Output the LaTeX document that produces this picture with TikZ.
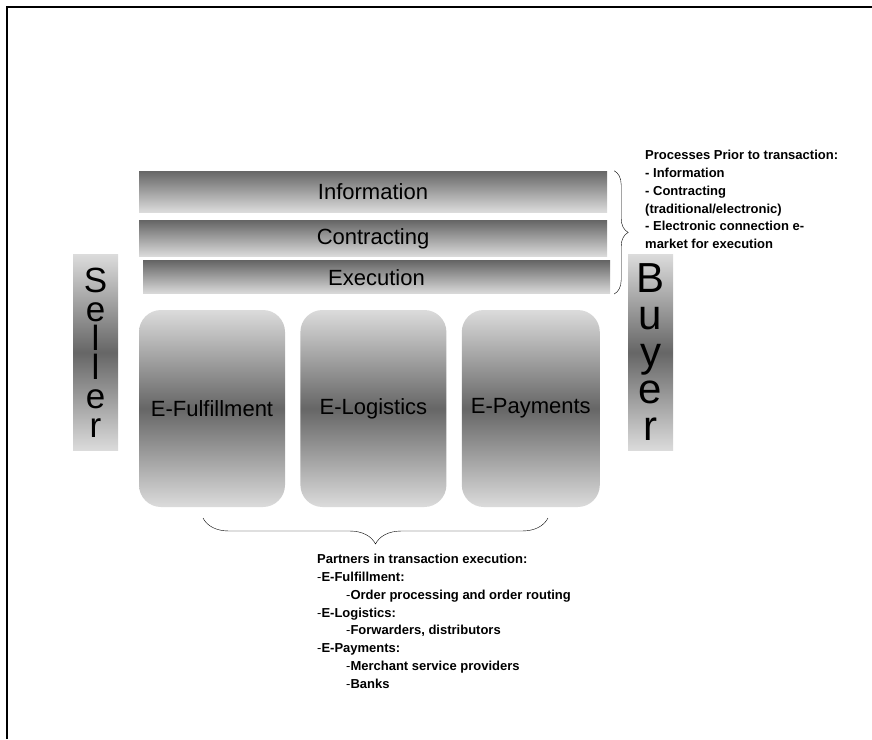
\documentclass[tikz,border=0pt]{standalone}
\usepackage{fontspec}
\setmainfont{Liberation Sans}
\usetikzlibrary{positioning,decorations.pathreplacing}
\definecolor{lite}{gray}{0.86}
\definecolor{dim}{gray}{0.40}

\begin{document}
\begin{tikzpicture}[x=1pt,y=-1pt,
    bar/.style={rectangle,inner sep=0pt,minimum width=468pt,top color=dim,bottom color=lite,font=\fontsize{22}{26}\selectfont},
    pillar/.style={rectangle,inner sep=0pt,minimum width=45pt,minimum height=196pt,top color=lite,bottom color=lite,middle color=dim,align=center},
    partner/.style={rectangle,rounded corners=22pt,inner sep=0pt,minimum height=197pt,top color=lite,bottom color=lite,middle color=dim,font=\fontsize{22}{26}\selectfont},
    note/.style={align=left,inner sep=0pt,font=\fontsize{13}{17.8}\selectfont\bfseries},
    curly/.style={decorate,decoration={brace,amplitude=#1}}]
    \useasboundingbox (0,0) rectangle (872,739);
    \draw[line width=2.5pt] (7,739) -- (7,7) -- (872,7);

    % stages of the transaction
    \node[bar,minimum height=41pt] (info) at (373,191.5) {Information};
    \node[bar,minimum height=36pt,below=8pt of info] (contract) {Contracting};
    \node[bar,minimum height=33pt,minimum width=467pt,below=4pt of contract,xshift=3.5pt] (exec) {Execution};

    % the two parties
    \node[pillar,font=\fontsize{35}{29}\selectfont] (seller) at (95.5,352.5) {S\\e\\l\\l\\e\\r};
    \node[pillar,font=\fontsize{42}{37}\selectfont] (buyer) at (650.5,352.5) {B\\u\\y\\e\\r};

    % partners
    \node[partner,minimum width=146pt] (fulfil) at (212,408.5) {E-Fulfillment};
    \node[partner,minimum width=146pt,right=15pt of fulfil] (logist) {E-Logistics};
    \node[partner,minimum width=138pt,right=15pt of logist] (pay) {E-Payments};

    \coordinate (bt) at ([xshift=7pt]info.north east);
    \coordinate (bb) at ([xshift=7pt]info.east |- exec.south);
    \draw[curly=14pt] (bt) -- (bb);
    \coordinate (br) at (548,518);
    \coordinate (bl) at (203,518);
    \draw[curly=26pt] (br) -- (bl);

    \node[note,anchor=north west] (prior) at (645,150) {Processes Prior to transaction:\\- Information\\- Contracting\\(traditional/electronic)\\- Electronic connection e-\\market for execution};
    \node[note,anchor=north west] (partners) at (317,554) {Partners in transaction execution:\\
      {\mdseries-}E-Fulfillment:\\
      \hspace*{29pt}{\mdseries-}Order processing and order routing\\
      {\mdseries-}E-Logistics:\\
      \hspace*{29pt}{\mdseries-}Forwarders, distributors\\
      {\mdseries-}E-Payments:\\
      \hspace*{29pt}{\mdseries-}Merchant service providers\\
      \hspace*{29pt}{\mdseries-}Banks};
\end{tikzpicture}
\end{document}
